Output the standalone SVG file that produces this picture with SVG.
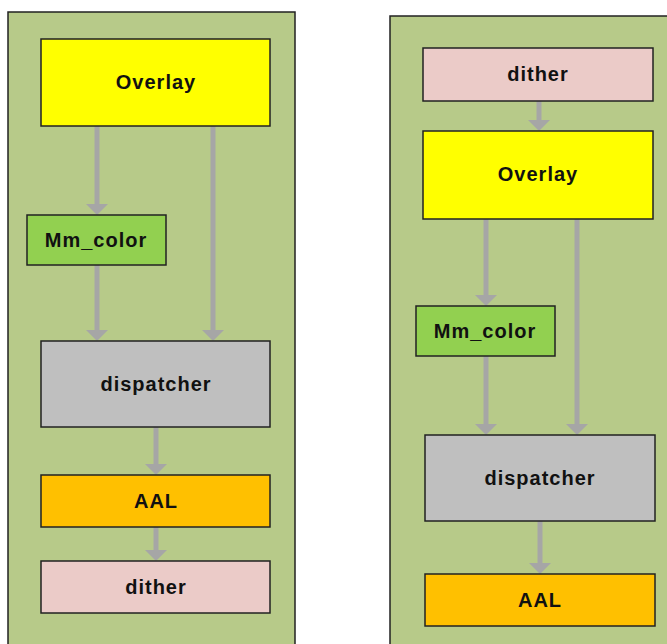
<svg xmlns="http://www.w3.org/2000/svg" width="667" height="644" viewBox="0 0 667 644">
<style>
.panel{fill:#b7ca89;stroke:#222;stroke-width:1.5}
.box{stroke:#222;stroke-width:1.5}
.lbl{font-family:"Liberation Sans",Arial,sans-serif;font-weight:bold;font-size:20px;letter-spacing:1px;fill:#111;text-anchor:middle;dominant-baseline:central}
.con{stroke:#a6a6a6;stroke-width:5;fill:none;marker-end:url(#ah)}
</style>
<defs>
<marker id="ah" markerUnits="userSpaceOnUse" markerWidth="11" markerHeight="22" refX="0" refY="11" orient="auto" viewBox="0 0 11 22">
<polygon points="0,0 11,11 0,22" fill="#a6a6a6"/>
</marker>
</defs>
<rect class="panel" x="8" y="12" width="287" height="640"/>
<rect class="panel" x="390" y="16" width="285" height="640"/>
<g id="connectors">
<line class="con" x1="97" y1="126" x2="97" y2="204"/>
<line class="con" x1="213" y1="126" x2="213" y2="330"/>
<line class="con" x1="97" y1="265" x2="97" y2="330"/>
<line class="con" x1="156" y1="427" x2="156" y2="464"/>
<line class="con" x1="156" y1="527" x2="156" y2="550"/>
<line class="con" x1="539" y1="101" x2="539" y2="120"/>
<line class="con" x1="486" y1="219" x2="486" y2="295"/>
<line class="con" x1="577" y1="219" x2="577" y2="424"/>
<line class="con" x1="486" y1="356" x2="486" y2="424"/>
<line class="con" x1="540" y1="521" x2="540" y2="563"/>
</g>
<g id="l-overlay"><rect class="box" x="41" y="39" width="229" height="87" fill="#ffff00"/><text class="lbl" x="156" y="82">Overlay</text></g>
<g id="l-mmcolor"><rect class="box" x="27" y="215" width="139" height="50" fill="#92d050"/><text class="lbl" x="96" y="240">Mm_color</text></g>
<g id="l-dispatcher"><rect class="box" x="41" y="341" width="229" height="86" fill="#bfbfbf"/><text class="lbl" x="156" y="384">dispatcher</text></g>
<g id="l-aal"><rect class="box" x="41" y="475" width="229" height="52" fill="#ffc000"/><text class="lbl" x="156" y="501">AAL</text></g>
<g id="l-dither"><rect class="box" x="41" y="561" width="229" height="52" fill="#ebcbc8"/><text class="lbl" x="156" y="587">dither</text></g>
<g id="r-dither"><rect class="box" x="423" y="48" width="230" height="53" fill="#ebcbc8"/><text class="lbl" x="538" y="74">dither</text></g>
<g id="r-overlay"><rect class="box" x="423" y="131" width="230" height="88" fill="#ffff00"/><text class="lbl" x="538" y="174">Overlay</text></g>
<g id="r-mmcolor"><rect class="box" x="416" y="306" width="139" height="50" fill="#92d050"/><text class="lbl" x="485" y="331">Mm_color</text></g>
<g id="r-dispatcher"><rect class="box" x="425" y="435" width="230" height="86" fill="#bfbfbf"/><text class="lbl" x="540" y="478">dispatcher</text></g>
<g id="r-aal"><rect class="box" x="425" y="574" width="230" height="52" fill="#ffc000"/><text class="lbl" x="540" y="600">AAL</text></g>
</svg>
